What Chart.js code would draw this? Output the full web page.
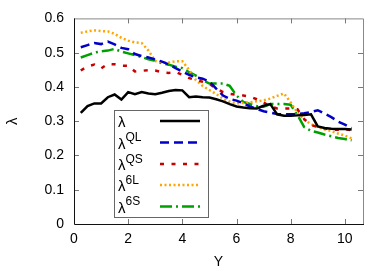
<!DOCTYPE html>
<html>
<head>
<meta charset="utf-8">
<script src="https://cdn.jsdelivr.net/npm/chart.js@4/dist/chart.umd.min.js"></script>
<style>
  html, body { margin: 0; padding: 0; background: #fff; }
  #wrap { width: 390px; height: 273px; position: relative; }
</style>
</head>
<body>
<div id="wrap"><canvas id="lambdaChart"></canvas></div>
<script>
// Y positions (common to all series)
const yPos = [0.25, 0.5, 0.75, 1.0, 1.25, 1.5, 1.75, 2.0, 2.25, 2.5, 2.75, 3.0, 3.25, 3.5, 3.75, 4.0,
  4.25, 4.5, 4.75, 5.0, 5.25, 5.5, 5.75, 6.0, 6.25, 6.5, 6.75, 7.0, 7.25, 7.5, 7.75, 8.0,
  8.25, 8.5, 8.75, 9.0, 9.25, 9.5, 9.75, 10.0, 10.25];

const lambdaVals = [0.324, 0.344, 0.352, 0.352, 0.370, 0.378, 0.363, 0.385, 0.379, 0.385, 0.381, 0.379,
  0.383, 0.388, 0.391, 0.390, 0.370, 0.372, 0.370, 0.369, 0.364, 0.358, 0.350, 0.343, 0.340, 0.338,
  0.337, 0.345, 0.350, 0.320, 0.316, 0.316, 0.317, 0.318, 0.320, 0.285, 0.280, 0.278, 0.277, 0.277, 0.276];

const lambdaQL = [0.516, 0.522, 0.528, 0.525, 0.532, 0.524, 0.514, 0.510, 0.496, 0.490, 0.486, 0.480,
  0.474, 0.466, 0.455, 0.445, 0.435, 0.428, 0.424, 0.416, 0.395, 0.375, 0.365, 0.360, 0.352, 0.343,
  0.336, 0.329, 0.325, 0.321, 0.320, 0.320, 0.321, 0.323, 0.327, 0.332, 0.322, 0.312, 0.299, 0.290, 0.280];

const lambdaQS = [0.448, 0.460, 0.465, 0.454, 0.467, 0.466, 0.462, 0.462, 0.445, 0.447, 0.449, 0.448,
  0.443, 0.441, 0.444, 0.435, 0.426, 0.420, 0.415, 0.409, 0.395, 0.385, 0.380, 0.377, 0.375, 0.372,
  0.364, 0.355, 0.343, 0.337, 0.337, 0.337, 0.335, 0.306, 0.289, 0.283, 0.279, 0.275, 0.275, 0.276, 0.274];

const lambda6L = [0.558, 0.562, 0.565, 0.563, 0.562, 0.555, 0.543, 0.535, 0.530, 0.528, 0.506, 0.476,
  0.472, 0.471, 0.475, 0.475, 0.450, 0.420, 0.403, 0.391, 0.379, 0.366, 0.357, 0.352, 0.353, 0.355,
  0.358, 0.361, 0.366, 0.374, 0.381, 0.355, 0.325, 0.305, 0.291, 0.283, 0.276, 0.271, 0.264, 0.258, 0.250];

const lambda6S = [0.486, 0.493, 0.500, 0.504, 0.506, 0.511, 0.503, 0.498, 0.493, 0.487, 0.481, 0.476,
  0.469, 0.465, 0.459, 0.455, 0.443, 0.433, 0.420, 0.410, 0.410, 0.410, 0.403, 0.375, 0.356, 0.350,
  0.344, 0.342, 0.350, 0.350, 0.350, 0.348, 0.318, 0.283, 0.272, 0.267, 0.261, 0.256, 0.251, 0.248, 0.244];

const xTicks = [0, 2, 4, 6, 8, 10];
const yTicks = [0, 0.1, 0.2, 0.3, 0.4, 0.5, 0.6];

const seriesNames = ['QL', 'QS', '6L', '6S'];

const FONT = '"Liberation Sans", Arial, sans-serif';

const toPoints = (vals) => vals.map((v, i) => ({ x: yPos[i], y: v }));

const styles = [
  { sup: '', color: '#000000', dash: [] },
  { sup: 'QL', color: '#0000c8', dash: [9, 5] },
  { sup: 'QS', color: '#c80000', dash: [4, 7.5] },
  { sup: '6L', color: '#ffa500', dash: [2, 2.5] },
  { sup: '6S', color: '#00a000', dash: [12, 4, 2, 4] }
];

const allVals = [lambdaVals, lambdaQL, lambdaQS, lambda6L, lambda6S];

const datasets = allVals.map((vals, i) => ({
  label: 'λ' + styles[i].sup,
  data: toPoints(vals),
  borderColor: styles[i].color,
  borderWidth: 2.5,
  borderDash: styles[i].dash,
  pointRadius: 0,
  tension: 0,
  fill: false
}));

// frame + inward ticks on all four sides
const framePlugin = {
  id: 'frame',
  afterDatasetsDraw(chart) {
    const { ctx, chartArea: a, scales } = chart;
    ctx.save();
    ctx.lineWidth = 1;
    ctx.strokeStyle = '#777';
    xTicks.forEach(t => {
      const px = Math.round(scales.x.getPixelForValue(t)) + 0.5;
      if (t === 0) return;
      ctx.beginPath();
      ctx.moveTo(px, a.bottom); ctx.lineTo(px, a.bottom - 5);
      ctx.moveTo(px, a.top); ctx.lineTo(px, a.top + 5);
      ctx.stroke();
    });
    yTicks.forEach(t => {
      const py = Math.round(scales.y.getPixelForValue(t)) + 0.5;
      if (t === 0 || t === 0.6) return;
      ctx.beginPath();
      ctx.moveTo(a.left, py); ctx.lineTo(a.left + 5, py);
      ctx.moveTo(a.right, py); ctx.lineTo(a.right - 5, py);
      ctx.stroke();
    });
    // top & right border (gray), left & bottom (dark)
    ctx.strokeStyle = '#888';
    ctx.beginPath();
    ctx.moveTo(a.left, a.top + 0.5); ctx.lineTo(a.right + 0.5, a.top + 0.5); ctx.lineTo(a.right + 0.5, a.bottom);
    ctx.stroke();
    ctx.strokeStyle = '#111';
    ctx.beginPath();
    ctx.moveTo(a.left + 0.5, a.top); ctx.lineTo(a.left + 0.5, a.bottom + 0.5); ctx.lineTo(a.right + 1, a.bottom + 0.5);
    ctx.stroke();
    ctx.restore();
  }
};

// boxed legend with superscripts
const legendPlugin = {
  id: 'supLegend',
  afterDraw(chart) {
    const ctx = chart.ctx;
    const box = { x: 114.5, y: 110.5, w: 94, h: 107 };
    ctx.save();
    ctx.fillStyle = '#fff';
    ctx.fillRect(box.x, box.y, box.w, box.h);
    ctx.strokeStyle = '#666';
    ctx.lineWidth = 1;
    ctx.strokeRect(box.x, box.y, box.w, box.h);
    const rowY = [121, 142.5, 164, 185, 206.5];
    styles.forEach((s, i) => {
      const y = rowY[i];
      ctx.fillStyle = '#000';
      ctx.textBaseline = 'alphabetic';
      ctx.font = '15px ' + FONT;
      ctx.fillText('λ', 118, y + 6);
      if (s.sup) {
        ctx.font = '12px ' + FONT;
        ctx.fillText(s.sup, 125.5, y - 1.5);
      }
      ctx.strokeStyle = s.color;
      ctx.lineWidth = 2.5;
      ctx.setLineDash(s.dash);
      ctx.beginPath();
      ctx.moveTo(160, y);
      ctx.lineTo(200, y);
      ctx.stroke();
    });
    ctx.restore();
  }
};

new Chart(document.getElementById('lambdaChart'), {
  type: 'line',
  data: { datasets },
  options: {
    responsive: true,
    maintainAspectRatio: false,
    animation: false,
    layout: { padding: { left: 0, right: 27, top: 18, bottom: 0 } },
    plugins: {
      legend: { display: false },
      tooltip: { enabled: false }
    },
    scales: {
      x: {
        type: 'linear',
        min: 0,
        max: 10.67,
        afterFit: (s) => { s.height = 49; },
        afterBuildTicks: (s) => { s.ticks = xTicks.map(v => ({ value: v })); },
        ticks: {
          includeBounds: false,
          padding: 7,
          color: '#000',
          font: { family: FONT, size: 14 },
          callback: (v) => String(v)
        },
        grid: { display: false, drawTicks: false },
        border: { display: false },
        title: {
          display: true,
          text: 'Y',
          color: '#000',
          font: { family: FONT, size: 14 },
          padding: { top: 0, bottom: 2 }
        }
      },
      y: {
        min: 0,
        max: 0.6,
        afterFit: (s) => { s.width = 74; },
        afterBuildTicks: (s) => { s.ticks = yTicks.map(v => ({ value: v })); },
        ticks: {
          padding: 10,
          color: '#000',
          font: { family: FONT, size: 14 },
          callback: (v) => (v === 0 ? '0' : v.toFixed(1))
        },
        grid: { display: false, drawTicks: false },
        border: { display: false },
        title: {
          display: true,
          text: 'λ',
          color: '#000',
          font: { family: FONT, size: 15 },
          padding: { top: 4, bottom: 0 }
        }
      }
    }
  },
  plugins: [framePlugin, legendPlugin]
});
</script>
</body>
</html>
